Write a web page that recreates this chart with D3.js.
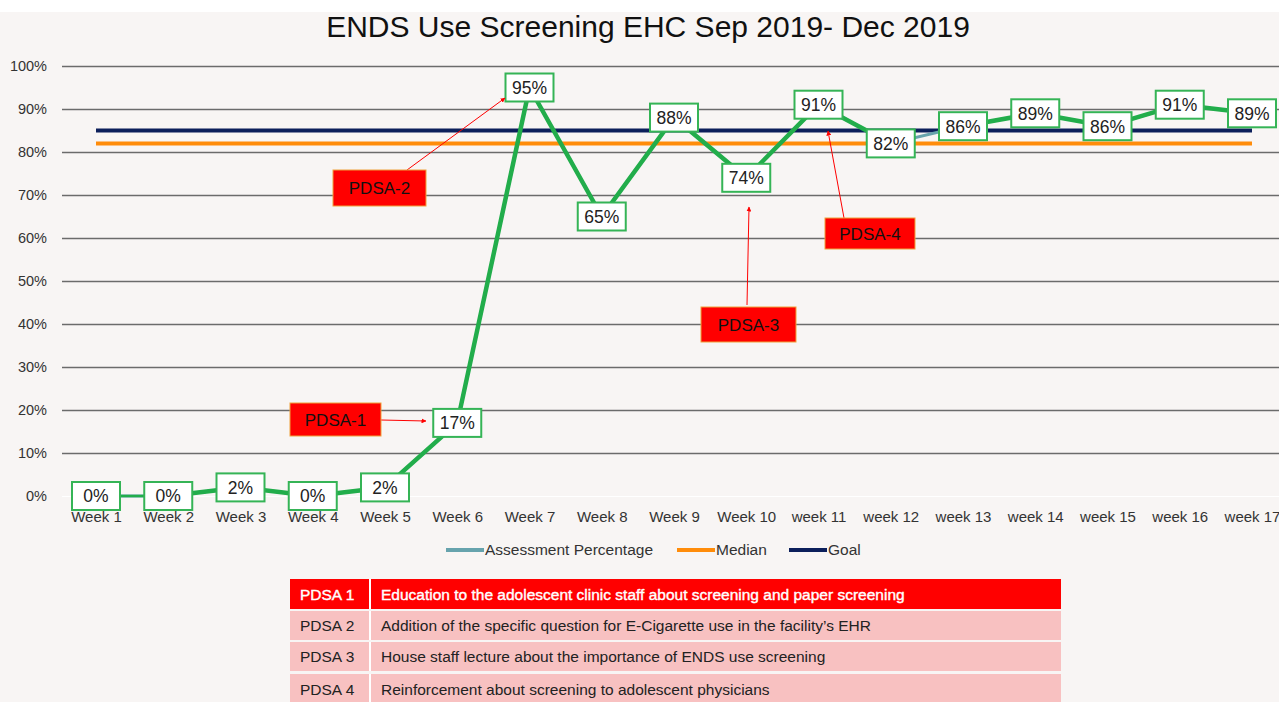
<!DOCTYPE html>
<html>
<head>
<meta charset="utf-8">
<script src="https://cdn.jsdelivr.net/npm/d3@7"></script>
<style>
  html, body { margin: 0; padding: 0; background: #fff; }
  svg { display: block; }
  text { font-family: "Liberation Sans", Arial, sans-serif; }
</style>
</head>
<body>
<svg id="chart" width="1279" height="702"></svg>
<script>
// chart data
const weeks = ['Week 1', 'Week 2', 'Week 3', 'Week 4', 'Week 5', 'Week 6', 'Week 7', 'Week 8',
  'Week 9', 'Week 10', 'week 11', 'week 12', 'week 13', 'week 14', 'week 15', 'week 16', 'week 17'];
const assessment = [0, 0, 0.02, 0, 0.02, 0.17, 0.95, 0.65, 0.88, 0.74, 0.91, 0.82, 0.86, 0.89, 0.86, 0.91, 0.89];
const median = 0.82;
const goal = 0.85;
const yTicks = [0, 0.1, 0.2, 0.3, 0.4, 0.5, 0.6, 0.7, 0.8, 0.9, 1];

const legendNames = ['Assessment Percentage', 'Median', 'Goal'];
const pdsaIds = ['PDSA 1', 'PDSA 2', 'PDSA 3', 'PDSA 4'];
const pdsaText = [
  'Education to the adolescent clinic staff about screening and paper screening',
  'Addition of the specific question for E-Cigarette use in the facility\u2019s EHR',
  'House staff lecture about the importance of ENDS use screening',
  'Reinforcement about screening to adolescent physicians'
];
const pdsaLabels = ['PDSA-1', 'PDSA-2', 'PDSA-3', 'PDSA-4'];

const colors = {
  bg: '#f8f5f4',
  grid: '#6b6b6b',
  teal: '#67a3ad',
  green: '#22ad4b',
  median: '#ff8c0a',
  goal: '#0c1f5b',
  red: '#ff0000',
  pink: '#f8c1c1'
};

const svg = d3.select('#chart');
const W = 1279, H = 702;

svg.append('rect').attr('x', 0).attr('y', 12).attr('width', W).attr('height', H - 12)
  .attr('fill', colors.bg);

// title
svg.append('text')
  .attr('x', 648).attr('y', 37)
  .attr('text-anchor', 'middle')
  .attr('font-size', 30)
  .attr('fill', '#111')
  .text('ENDS Use Screening EHC Sep 2019- Dec 2019');

const x = d3.scalePoint().domain(weeks).range([96, 1252]);
const y = d3.scaleLinear().domain([0, 1]).range([496, 66]);

// gridlines
const yAxis = d3.axisLeft(y).tickValues(yTicks)
  .tickFormat(d3.format('.0%'))
  .tickSize(-(W - 62)).tickSizeOuter(0);

const gy = svg.append('g').attr('transform', 'translate(62,0)').call(yAxis);
gy.select('.domain').remove();
gy.selectAll('.tick line')
  .attr('stroke', d => d === 0 ? '#ffffff' : colors.grid)
  .attr('stroke-width', d => d === 0 ? 1 : 1.3);
gy.selectAll('.tick text')
  .attr('x', -15)
  .attr('font-size', 14.5)
  .attr('fill', '#333');

// x axis labels
const xAxis = d3.axisBottom(x).tickSize(0);
const gx = svg.append('g').attr('transform', 'translate(0,508)').call(xAxis);
gx.select('.domain').remove();
gx.selectAll('.tick text')
  .attr('font-size', 15)
  .attr('fill', '#333');

// median and goal
svg.append('line')
  .attr('x1', x(weeks[0])).attr('x2', x(weeks[weeks.length - 1]))
  .attr('y1', y(median)).attr('y2', y(median))
  .attr('stroke', colors.median).attr('stroke-width', 4);
svg.append('line')
  .attr('x1', x(weeks[0])).attr('x2', x(weeks[weeks.length - 1]))
  .attr('y1', y(goal)).attr('y2', y(goal))
  .attr('stroke', colors.goal).attr('stroke-width', 4);

// assessment series (underlying teal line)
const line = d3.line().x((d, i) => x(weeks[i])).y(d => y(d));
svg.append('path')
  .datum(assessment)
  .attr('d', line)
  .attr('fill', 'none')
  .attr('stroke', colors.teal)
  .attr('stroke-width', 3);

// green highlight drawn over it, segment by segment
const segs = d3.pairs(assessment.map((v, i) => [x(weeks[i]), y(v)]));
svg.append('g').selectAll('line')
  .data(segs.filter((s, i) => i !== 11))
  .join('line')
  .attr('x1', d => d[0][0]).attr('y1', d => d[0][1])
  .attr('x2', d => d[1][0]).attr('y2', d => d[1][1])
  .attr('stroke', colors.green)
  .attr('stroke-width', (d, i) => i === 0 ? 2.5 : 4.5)
  .attr('stroke-linecap', 'round');

// data label boxes
const lbl = svg.append('g').selectAll('g')
  .data(assessment)
  .join('g')
  .attr('transform', (d, i) => `translate(${x(weeks[i])},${y(d)})`);
lbl.append('rect')
  .attr('x', -24).attr('y', -14).attr('width', 48).attr('height', 28)
  .attr('fill', '#fff')
  .attr('stroke', '#35b456').attr('stroke-width', 2);
lbl.append('text')
  .attr('text-anchor', 'middle')
  .attr('dy', '0.36em')
  .attr('font-size', 17.5)
  .attr('fill', '#222')
  .text(d => d3.format('.0%')(d));

// PDSA callouts
svg.append('defs').append('marker')
  .attr('id', 'arrow')
  .attr('viewBox', '0 0 10 10')
  .attr('refX', 9).attr('refY', 5)
  .attr('markerWidth', 5).attr('markerHeight', 5)
  .attr('orient', 'auto')
  .append('path').attr('d', 'M0,0L10,5L0,10z').attr('fill', colors.red);

const callouts = [
  { box: [290, 403, 91, 33], from: [381, 420], to: [426, 421] },
  { box: [333, 170, 93, 36], from: [407, 170], to: [505, 98] },
  { box: [701, 307, 95, 35], from: [747, 305], to: [749, 207] },
  { box: [825, 218, 90, 31], from: [844, 218], to: [828, 131] }
];

const cg = svg.append('g').selectAll('g')
  .data(callouts)
  .join('g');
cg.append('line')
  .attr('x1', d => d.from[0]).attr('y1', d => d.from[1])
  .attr('x2', d => d.to[0]).attr('y2', d => d.to[1])
  .attr('stroke', colors.red).attr('stroke-width', 1)
  .attr('marker-end', 'url(#arrow)');
cg.append('rect')
  .attr('x', d => d.box[0]).attr('y', d => d.box[1])
  .attr('width', d => d.box[2]).attr('height', d => d.box[3])
  .attr('fill', colors.red)
  .attr('stroke', '#eea23a').attr('stroke-width', 1);
cg.append('text')
  .attr('x', d => d.box[0] + d.box[2] / 2)
  .attr('y', d => d.box[1] + d.box[3] / 2)
  .attr('dy', '0.36em')
  .attr('text-anchor', 'middle')
  .attr('font-size', 17)
  .attr('fill', '#111')
  .text((d, i) => pdsaLabels[i]);

// legend
const legendX = [446, 677, 789];
const legendColors = [colors.teal, colors.median, colors.goal];
const lg = svg.append('g').selectAll('g')
  .data(legendNames)
  .join('g')
  .attr('transform', (d, i) => `translate(${legendX[i]},550)`);
lg.append('line')
  .attr('x1', 0).attr('x2', 38)
  .attr('stroke', (d, i) => legendColors[i]).attr('stroke-width', 4);
lg.append('text')
  .attr('x', 39).attr('dy', '0.35em')
  .attr('font-size', 15.5)
  .attr('fill', '#333')
  .text(d => d);

// PDSA table
const rowY = [579, 611, 642, 674];
const rowH = [30, 29, 29, 30];
const tbl = svg.append('g').selectAll('g')
  .data(pdsaIds)
  .join('g')
  .attr('transform', (d, i) => `translate(290,${rowY[i]})`);
tbl.append('rect')
  .attr('width', 771).attr('height', (d, i) => rowH[i])
  .attr('fill', (d, i) => i === 0 ? colors.red : colors.pink);
tbl.append('line')
  .attr('x1', 80).attr('x2', 80).attr('y1', 0).attr('y2', (d, i) => rowH[i])
  .attr('stroke', '#fff').attr('stroke-width', 2);
tbl.append('text')
  .attr('x', 10).attr('y', (d, i) => rowH[i] / 2).attr('dy', '0.36em')
  .attr('font-size', 15.5)
  .attr('fill', (d, i) => i === 0 ? '#fff' : '#222')
  .attr('stroke', (d, i) => i === 0 ? '#fff' : 'none')
  .attr('stroke-width', 0.4)
  .text(d => d);
tbl.append('text')
  .attr('x', 91).attr('y', (d, i) => rowH[i] / 2).attr('dy', '0.36em')
  .attr('font-size', 15.5)
  .attr('fill', (d, i) => i === 0 ? '#fff' : '#222')
  .attr('stroke', (d, i) => i === 0 ? '#fff' : 'none')
  .attr('stroke-width', 0.4)
  .text((d, i) => pdsaText[i]);
</script>
</body>
</html>
